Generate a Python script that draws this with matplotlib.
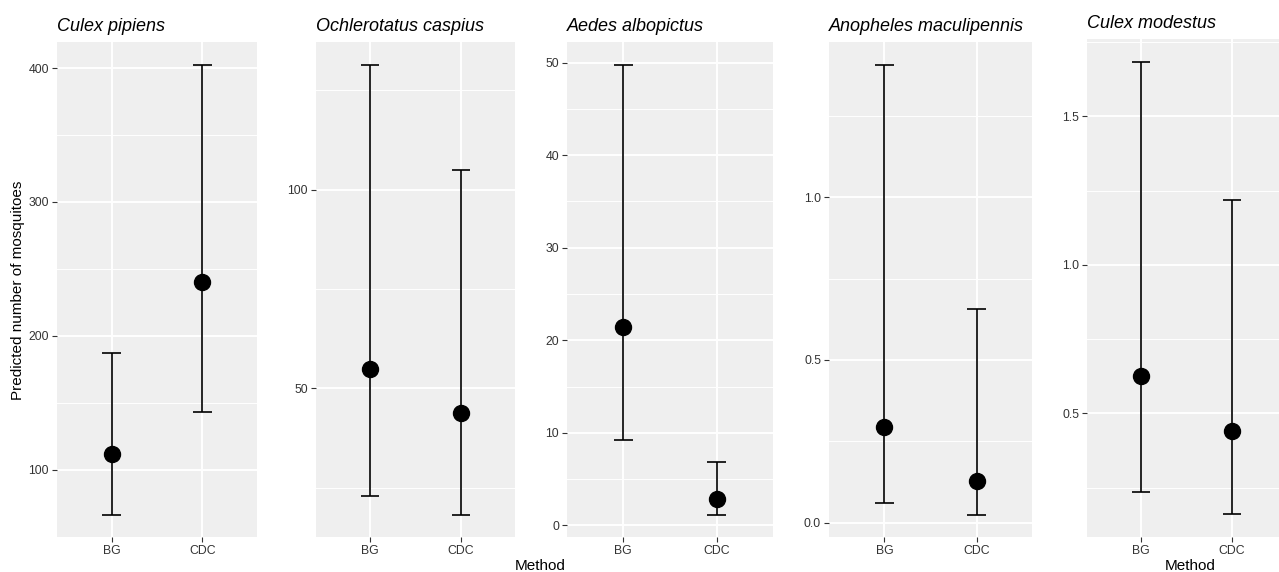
import matplotlib
import matplotlib.pyplot as plt
from matplotlib.ticker import FixedLocator

matplotlib.use("Agg")

plt.rcParams['font.family'] = ['Liberation Sans', 'DejaVu Sans']

methods = ["BG", "CDC"]
species = ["Culex pipiens", "Ochlerotatus caspius", "Aedes albopictus",
           "Anopheles maculipennis", "Culex modestus"]

# predicted counts with lower / upper limits, BG then CDC
est_pipiens = [112.0, 240.0]
lo_pipiens = [66.5, 142.8]
hi_pipiens = [187.3, 402.7]

est_caspius = [54.9, 43.8]
lo_caspius = [22.9, 18.3]
hi_caspius = [131.5, 105.0]

est_albopictus = [21.4, 2.87]
lo_albopictus = [9.2, 1.18]
hi_albopictus = [49.8, 6.85]

est_maculipennis = [0.294, 0.128]
lo_maculipennis = [0.0605, 0.0247]
hi_maculipennis = [1.408, 0.655]

est_modestus = [0.626, 0.442]
lo_modestus = [0.234, 0.160]
hi_modestus = [1.684, 1.217]

yticks = [
    [100, 200, 300, 400],
    [50, 100],
    [0, 10, 20, 30, 40, 50],
    [0.0, 0.5, 1.0],
    [0.5, 1.0, 1.5],
]
ylabels = [
    ["100", "200", "300", "400"],
    ["50", "100"],
    ["0", "10", "20", "30", "40", "50"],
    ["0.0", "0.5", "1.0"],
    ["0.5", "1.0", "1.5"],
]

data = [
    (est_pipiens, lo_pipiens, hi_pipiens),
    (est_caspius, lo_caspius, hi_caspius),
    (est_albopictus, lo_albopictus, hi_albopictus),
    (est_maculipennis, lo_maculipennis, hi_maculipennis),
    (est_modestus, lo_modestus, hi_modestus),
]

W, H = 1279, 572
fig = plt.figure(figsize=(W / 100, H / 100), dpi=100)

# panel boxes in pixels: left, right, top, bottom
boxes = [
    (57, 257, 42, 537),
    (316, 515, 42, 537),
    (567, 773, 42, 537),
    (829, 1032, 42, 537),
    (1087, 1286, 39, 537),
]

x = [0, 1]
for i, (name, (est, lo, hi)) in enumerate(zip(species, data)):
    l, r, t, b = boxes[i]
    ax = fig.add_axes([l / W, 1 - b / H, (r - l) / W, (b - t) / H])
    ax.set_facecolor("#EFEFEF")
    for s in ax.spines.values():
        s.set_visible(False)

    span = max(hi) - min(lo)
    ax.set_ylim(min(lo) - 0.05 * span, max(hi) + 0.05 * span)
    ax.set_xlim(-0.6, 1.6)

    ticks = yticks[i]
    step = ticks[1] - ticks[0]
    minors = [ticks[0] - step / 2 + k * step for k in range(len(ticks) + 1)]
    ax.yaxis.set_major_locator(FixedLocator(ticks))
    ax.yaxis.set_minor_locator(FixedLocator(minors))
    ax.set_yticklabels(ylabels[i])
    ax.set_xticks(x)
    ax.set_xticklabels(methods)

    ax.grid(True, which="major", color="white", linewidth=1.4, zorder=0)
    ax.grid(True, which="minor", axis="y", color="white", linewidth=0.7, zorder=0)
    ax.set_axisbelow(True)
    ax.tick_params(which="major", length=3.5, width=0.8, color="#333333",
                   labelcolor="#333333", labelsize=8.8, pad=2.2)
    ax.tick_params(which="minor", length=0)

    ax.vlines(x, lo, hi, color="black", linewidth=1.2, zorder=3)
    ax.hlines(lo, [v - 0.1 for v in x], [v + 0.1 for v in x], color="black",
              linewidth=1.2, zorder=3)
    ax.hlines(hi, [v - 0.1 for v in x], [v + 0.1 for v in x], color="black",
              linewidth=1.2, zorder=3)
    ax.plot(x, est, "o", color="black", markersize=11.5, zorder=4)

    ax.set_title(name, style="italic", fontsize=13, loc="left", pad=8)

fig.text(18 / W, 1 - 290 / H, "Predicted number of mosquitoes", rotation=90,
         ha="center", va="center", fontsize=11)
fig.text(540 / W, 1 - 566 / H, "Method", ha="center", va="center", fontsize=11)
fig.text(1190 / W, 1 - 566 / H, "Method", ha="center", va="center", fontsize=11)

plt.savefig("out.png", dpi=100)
plt.close()
